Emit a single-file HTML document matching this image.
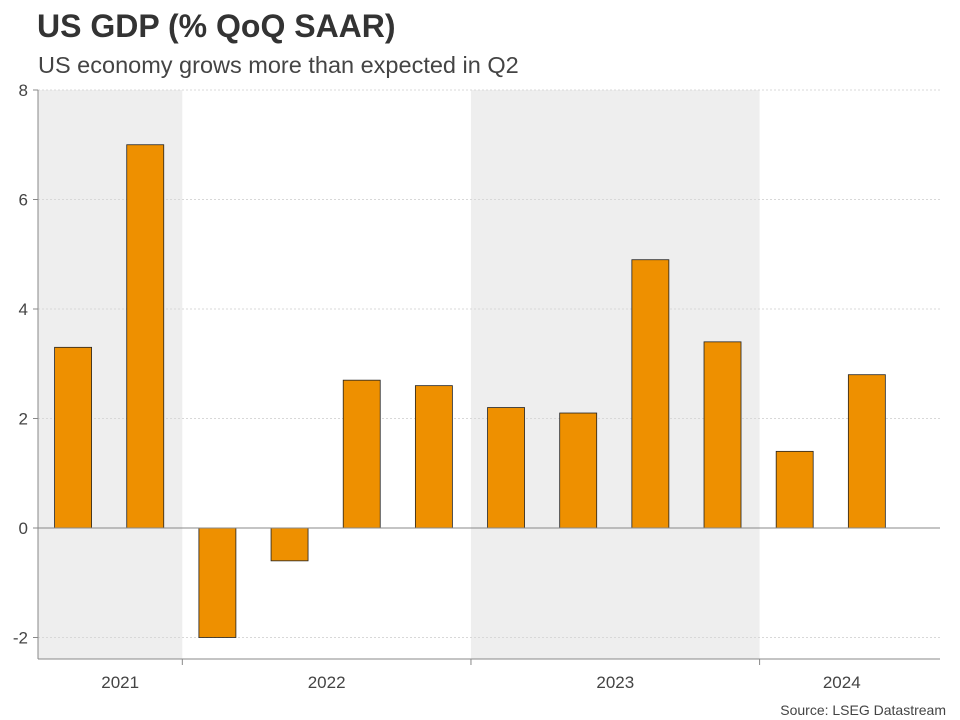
<!DOCTYPE html>
<html><head><meta charset="utf-8"><style>
body{margin:0;background:#fff;font-family:"Liberation Sans",Arial,sans-serif;}
svg{display:block}
</style></head><body>
<svg id="c" width="960" height="720">
<text x="37" y="37" font-size="32" font-weight="bold" fill="#333">US GDP (% QoQ SAAR)</text>
<text x="38" y="73" font-size="23.5" fill="#444">US economy grows more than expected in Q2</text>
<text x="946" y="715" font-size="14" fill="#444" text-anchor="end">Source: LSEG Datastream</text>
<g id="plot"></g>
</svg>
<script>
const quarters=["2021Q3","2021Q4","2022Q1","2022Q2","2022Q3","2022Q4","2023Q1","2023Q2","2023Q3","2023Q4","2024Q1","2024Q2"];
const values=[3.3,7.0,-2.0,-0.6,2.7,2.6,2.2,2.1,4.9,3.4,1.4,2.8];
const yTicks=[-2,0,2,4,6,8];
const years=["2021","2022","2023","2024"];
const yearStarts=[0,2,6,10];
const yearEnds=[2,6,10,12.5];
const shadedYears=[true,false,true,false];

const NS="http://www.w3.org/2000/svg";
const g=document.getElementById('plot');
const L=38,R=940,B=659,slot=(R-L)/12.5;
const y=v=>528-v*54.75;
const x=i=>L+i*slot;
function mk(t,a){const e=document.createElementNS(NS,t);for(const k in a)e.setAttribute(k,a[k]);g.appendChild(e);return e;}
years.forEach((yr,i)=>{
  if(shadedYears[i]){const r=mk('rect',{x:x(yearStarts[i]),y:y(8),width:x(yearEnds[i])-x(yearStarts[i]),height:B-y(8),fill:'#eeeeee'});
  
  }
});
yTicks.forEach(t=>{
  if(t!==0){const l=mk('line',{x1:L,x2:R,y1:y(t),y2:y(t),stroke:'#d8d8d8','stroke-dasharray':'2,2'});
  
  }
  const tk=mk('line',{x1:L-5,x2:L,y1:y(t),y2:y(t),stroke:'#888'});
  
  
  const tx=mk('text',{x:L-10,y:y(t)+6,'font-size':17,fill:'#444','text-anchor':'end'});
  tx.textContent=t;
  
  
});
values.forEach((v,i)=>{
  const cx=x(i+0.5)-1,w=37;
  const r=mk('rect',{x:cx-w/2,y:Math.min(y(v),y(0)),width:w,height:Math.abs(y(v)-y(0)),fill:'#ee9000',stroke:'#222','stroke-width':0.8});
  
  
});
const z=mk('line',{x1:L,x2:R,y1:y(0),y2:y(0),stroke:'#888'});


const ya=mk('line',{x1:L,x2:L,y1:y(8),y2:B,stroke:'#888'});


const xa=mk('line',{x1:L,x2:R,y1:B,y2:B,stroke:'#888'});


years.forEach((yr,i)=>{
  if(i>0){const t=mk('line',{x1:x(yearStarts[i]),x2:x(yearStarts[i]),y1:B,y2:B+6,stroke:'#888'});
  
  }
  const off=(i===0||i===3)?10:0;
  const tx=mk('text',{x:(x(yearStarts[i])+x(Math.min(yearEnds[i],12)))/2+off,y:688,'font-size':17,fill:'#444','text-anchor':'middle'});
  tx.textContent=yr;
  
  
});
</script>
</body></html>
